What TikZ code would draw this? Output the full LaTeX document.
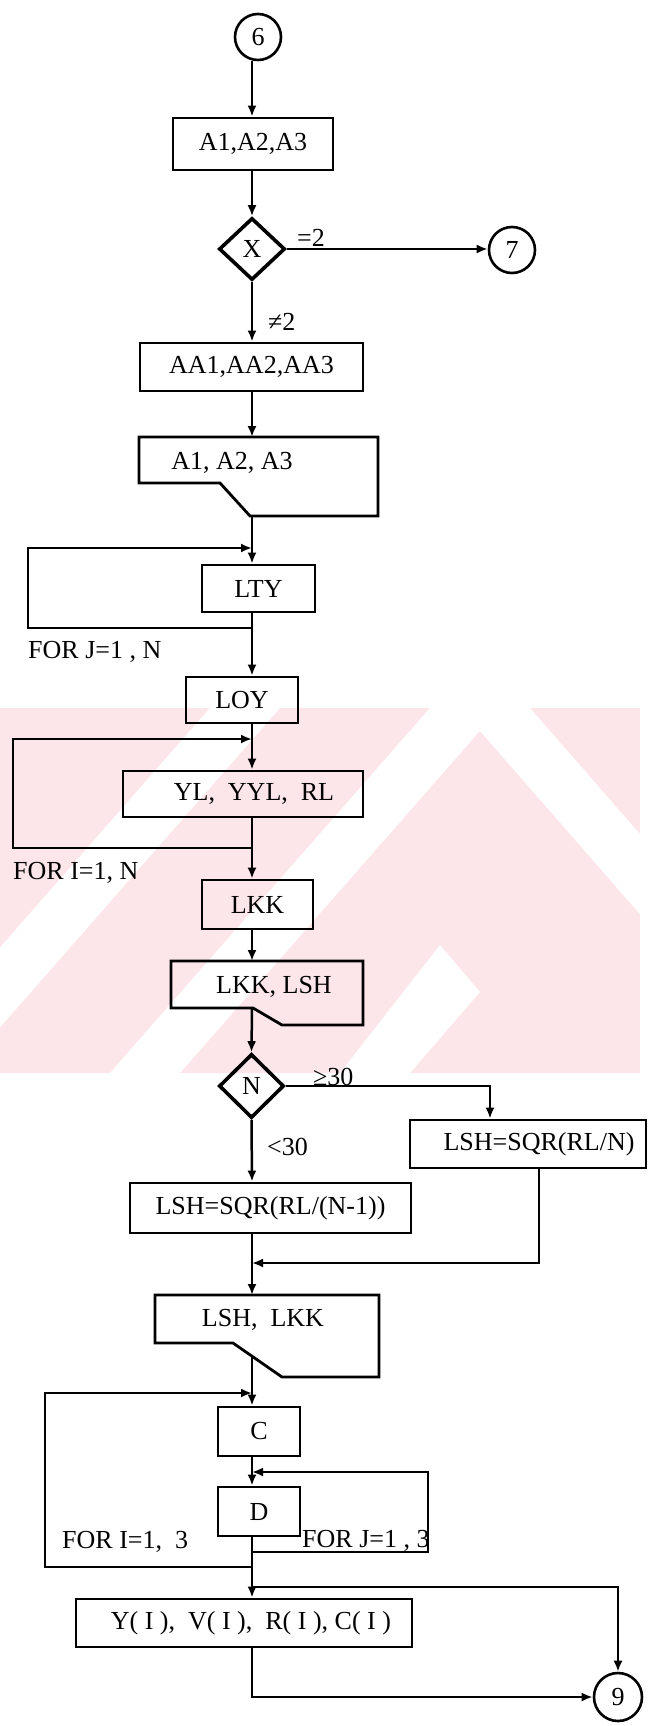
\documentclass[tikz,border=0pt]{standalone}
\usepackage{fontspec}
\setmainfont{Liberation Serif}
\usetikzlibrary{arrows.meta,shapes.geometric,calc}
\definecolor{wmpink}{RGB}{252,230,234}
\begin{document}
\begin{tikzpicture}[x=1pt,y=-1pt,
  font=\fontsize{26}{30}\selectfont,
  box/.style={draw,line width=2.8pt,inner sep=0pt},
  cnode/.style={draw,circle,line width=2.6pt,inner sep=0pt},
  dnode/.style={draw,diamond,line width=3.6pt,inner sep=0pt},
  conn/.style={line width=2.5pt},
  arr/.style={conn,-{Latex[length=11pt,width=9pt]}},
  lbl/.style={inner sep=0pt,anchor=west},
  docshape/.style={line width=2.8pt,line join=miter}]
\useasboundingbox (0,0) rectangle (651,1726);
% watermark
\begin{scope}
\clip (0,708) rectangle (651,1073);
\fill[wmpink] (0,708) rectangle (640,1073);
\fill[white] (-110,1073) -- (-40,1073) -- (280,708) -- (210,708) -- cycle;
\fill[white] (110,1073) -- (180,1073) -- (500,708) -- (430,708) -- cycle;
\fill[white] (460,708) -- (530,708) -- (680,880) -- (680,960) -- cycle;
\fill[white] (340,1073) -- (410,1073) -- (480,992) -- (440,945) -- cycle;
\end{scope}
\coordinate (ax) at (252,0);
% nodes
\node[cnode,minimum size=46pt] (c6) at (258,37) {6};
\node[box,minimum width=160pt,minimum height=52pt] (b1) at (253,144) {A1,A2,A3};
\node[dnode,minimum width=66pt,minimum height=62pt] (dX) at (252,249) {X};
\node[cnode,minimum size=46pt] (c7) at (512,250) {7};
\node[lbl] (lq2) at (297,238) {=2};
\node[lbl] (lne2) at (268,322) {≠2};
\node[box,minimum width=223pt,minimum height=48pt] (b2) at (251.5,367) {AA1,AA2,AA3};
\draw[docshape] (139,437) -- (378,437) -- (378,516) -- (250,516) -- (220,483) -- (139,483) -- cycle;
\node[inner sep=0pt] (d1) at (232,463) {A1, A2, A3};
\coordinate (d1t) at (252,437);
\coordinate (d1o) at (252,516);
\node[box,minimum width=113pt,minimum height=47pt] (b3) at (258.5,588.5) {LTY};
\node[lbl] (lj) at (28,652) {FOR J=1 , N};
\node[box,minimum width=112pt,minimum height=46pt] (b4) at (242,700) {LOY};
\node[box,minimum width=240pt,minimum height=46pt] (b5) at (243,794) {\hspace{22pt}YL,\ \ YYL,\ \ RL};
\node[lbl] (li) at (13,873) {FOR I=1, N};
\node[box,minimum width=111pt,minimum height=49pt] (b6) at (257.5,904.5) {LKK};
\draw[docshape] (171,961) -- (363,961) -- (363,1025) -- (282,1025) -- (253,1008) -- (171,1008) -- cycle;
\node[inner sep=0pt] (d2) at (274,987) {LKK, LSH};
\coordinate (d2t) at (252,961);
\coordinate (d2o) at (252,1008);
\node[dnode,minimum width=65pt,minimum height=64pt] (dN) at (251.5,1086) {N};
\node[lbl] (lge) at (313,1077) {≥30};
\node[lbl] (llt) at (267,1147) {<30};
\node[box,minimum width=236pt,minimum height=48pt] (b7) at (528,1144) {\hspace{22pt}LSH=SQR(RL/N)};
\node[box,minimum width=281pt,minimum height=50pt] (b8) at (270.5,1208) {LSH=SQR(RL/(N-1))};
\draw[docshape] (155,1295) -- (379,1295) -- (379,1377) -- (282,1377) -- (233,1343) -- (155,1343) -- cycle;
\node[inner sep=0pt] (d3) at (263,1320) {LSH,\ \ LKK};
\coordinate (d3t) at (252,1295);
\coordinate (d3o) at (252,1356);
\node[box,minimum width=82pt,minimum height=49pt] (bC) at (259,1431.5) {C};
\node[box,minimum width=82pt,minimum height=49pt] (bD) at (259,1511.5) {D};
\node[lbl] (li3) at (62,1542) {FOR I=1,\ \ 3};
\node[box,minimum width=336pt,minimum height=48pt] (bY) at (244,1623) {\hspace{14pt}Y( I ),\ \ V( I ),\ \ R( I ), C( I )};
\node[cnode,minimum size=48pt] (c9) at (618,1697) {9};
% coordinates for routing
\coordinate (jt) at (252,548);
\coordinate (jb) at (252,628);
\coordinate (jl) at (28,0);
\coordinate (it) at (252,739);
\coordinate (ib) at (252,848);
\coordinate (il) at (13,0);
\coordinate (nr) at (490,0);
\coordinate (rr) at (539,0);
\coordinate (mj) at (252,1263);
\coordinate (ct) at (252,1393);
\coordinate (cb) at (252,1567);
\coordinate (cl) at (45,0);
\coordinate (dt) at (252,1472);
\coordinate (db) at (252,1552);
\coordinate (dr) at (428,0);
\coordinate (br) at (252,1587);
% connectors
\draw[arr] (c6.south -| ax) -- (b1.north -| ax);
\draw[arr] (b1.south -| ax) -- (dX.north);
\draw[arr] (dX.east) -- (dX.east -| c7.west);
\draw[arr] (dX.south) -- (b2.north -| ax);
\draw[arr] (b2.south -| ax) -- (d1t);
\draw[arr] (d1o) -- (b3.north -| ax);
\draw[arr] (jb) -- (jb -| jl) -- (jt -| jl) -- (jt);
\draw[arr] (b3.south -| ax) -- (b4.north -| ax);
\draw[arr] (b4.south -| ax) -- (b5.north -| ax);
\draw[arr] (ib) -- (ib -| il) -- (it -| il) -- (it);
\draw[arr] (b5.south -| ax) -- (b6.north -| ax);
\draw[arr] (b6.south -| ax) -- (d2t);
\draw[arr] (d2o) -- (dN.north);
\draw[arr] (dN.east) -| (b7.north -| nr);
\draw[arr] (dN.south) -- (b8.north -| ax);
\draw[arr] (b7.south -| rr) |- (mj);
\draw[arr] (b8.south -| ax) -- (d3t);
\draw[arr] (d3o) -- (bC.north -| ax);
\draw[arr] (cb) -- (cb -| cl) -- (ct -| cl) -- (ct);
\draw[arr] (bC.south -| ax) -- (bD.north -| ax);
\draw[arr] (db) -- (db -| dr) -- (dt -| dr) -- (dt);
\draw[arr] (bD.south -| ax) -- (bY.north -| ax);
\draw[arr] (br) -| (c9.north);
\draw[arr] (bY.south -| ax) |- (c9.west);
\node[lbl] (lj3) at (302,1541) {FOR J=1 , 3};
\end{tikzpicture}
\end{document}
